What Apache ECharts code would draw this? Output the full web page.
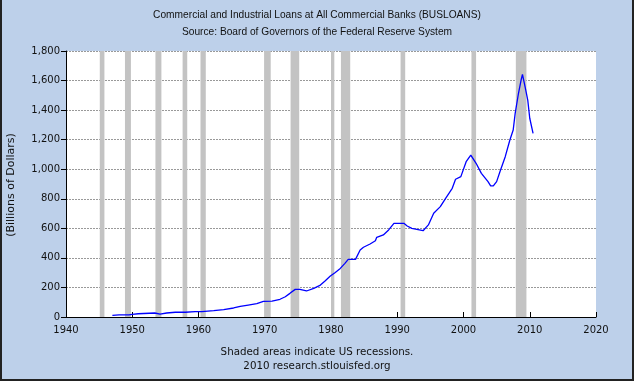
<!DOCTYPE html>
<html>
<head>
<meta charset="utf-8">
<script src="https://cdn.jsdelivr.net/npm/echarts@6/dist/echarts.min.js"></script>
<style>
html,body{margin:0;padding:0;}
body{background:#bdd0ea;}
#c{width:634px;height:381px;}
</style>
</head>
<body>
<div id="c"></div>
<script>
// Data
var years = [1947.0,1948.0,1949.5,1950.0,1950.9,1953.4,1954.2,1955.2,1956.5,1958.0,1959.5,1960.5,1962.3,1963.8,1965.3,1966.3,1967.5,1968.8,1969.8,1971.1,1972.3,1973.1,1973.8,1974.6,1975.3,1976.3,1977.4,1978.4,1979.1,1979.9,1980.6,1981.4,1982.1,1982.6,1983.7,1984.4,1984.9,1985.9,1986.7,1986.9,1987.9,1988.7,1989.5,1991.0,1991.5,1992.2,1993.9,1994.7,1995.5,1996.5,1997.3,1998.3,1998.8,1999.6,2000.4,2001.1,2001.9,2002.7,2003.7,2004.1,2004.5,2005.0,2005.5,2006.3,2007.0,2007.5,2007.8,2008.3,2008.7,2008.9,2009.3,2009.7,2010.0,2010.5];
var loans = [11,14,14,18,22,27,20,27,32,32,36,37,43,50,61,72,81,90,106,108,120,137,160,187,187,176,194,216,244,277,300,329,363,390,390,453,472,494,516,539,555,589,634,634,616,600,584,623,702,747,803,871,932,950,1051,1096,1040,972,916,887,887,916,983,1085,1198,1265,1378,1514,1604,1642,1558,1468,1345,1243];
var recessionStart = [1945.1,1948.9,1953.5,1957.6,1960.3,1969.9,1973.9,1980.0,1981.5,1990.5,2001.2,2007.9];
var recessionEnd   = [1945.8,1949.8,1954.4,1958.3,1961.1,1970.9,1975.2,1980.5,1982.9,1991.2,2001.9,2009.5];
var titleLines = ['Commercial and Industrial Loans at All Commercial Banks (BUSLOANS)','Source: Board of Governors of the Federal Reserve System'];
var footerLines = ['Shaded areas indicate US recessions.','2010 research.stlouisfed.org'];
var yAxisTitle = '(Billions of Dollars)';

var FONT_T = 'Liberation Sans';
var FONT = 'DejaVu Sans';
var seriesData = years.map(function(y,i){return [y, loans[i]];});
var areas = recessionStart.map(function(s,i){return [{xAxis:s},{xAxis:recessionEnd[i]}];});

var chart = echarts.init(document.getElementById('c'), null, {renderer:'canvas'});
chart.setOption({
  animation:false,
  backgroundColor:'#bdd0ea',
  textStyle:{fontFamily:FONT},
  title:{
    text: titleLines.join('\n'), left:'center', top:2,
    textStyle:{fontFamily:FONT_T,fontSize:10.2,fontWeight:'normal',color:'#111',lineHeight:17}
  },
  grid:{left:66,right:38,top:51,bottom:64,show:true,backgroundColor:'#ffffff',borderWidth:0},
  xAxis:{
    type:'value',min:1940,max:2020,interval:10,
    axisLine:{show:true,lineStyle:{color:'#000',width:1}},
    axisTick:{show:true,inside:true,length:5,lineStyle:{color:'#000'}},
    axisLabel:{color:'#111',fontSize:10,fontFamily:FONT,margin:8,formatter:function(v){return String(v);}},
    splitLine:{show:false}
  },
  yAxis:{
    type:'value',min:0,max:1800,interval:200,
    axisLine:{show:true,lineStyle:{color:'#000',width:1}},
    axisTick:{show:true,inside:false,length:5,lineStyle:{color:'#000'}},
    axisLabel:{color:'#111',fontSize:10,fontFamily:FONT,margin:6,
      formatter:function(v){return v.toString().replace(/\B(?=(\d{3})+(?!\d))/g,',');}},
    splitLine:{show:true,lineStyle:{color:'#999',type:[2,1],width:1}}
  },
  series:[{
    type:'line',data:seriesData,showSymbol:false,symbol:'none',
    lineStyle:{color:'#0000ff',width:1.3},
    z:3,
    markArea:{silent:true,itemStyle:{color:'#c3c3c3',opacity:1},data:areas,z:1}
  }],
  graphic:[
    {type:'text',x:11,y:185,rotation:Math.PI/2,
      style:{text:yAxisTitle,fontSize:11,fontFamily:FONT,fill:'#111',align:'center',verticalAlign:'middle'}},
    {type:'text',x:317,y:352,style:{text:footerLines[0],fontSize:10.3,fontFamily:FONT,fill:'#111',align:'center',verticalAlign:'middle'}},
    {type:'text',x:317,y:366,style:{text:footerLines[1],fontSize:10.3,fontFamily:FONT,fill:'#111',align:'center',verticalAlign:'middle'}},
    {type:'rect',shape:{x:1,y:-2,width:632,height:382},style:{fill:null,stroke:'#222',lineWidth:2},silent:true}
  ]
});
</script>
</body>
</html>
